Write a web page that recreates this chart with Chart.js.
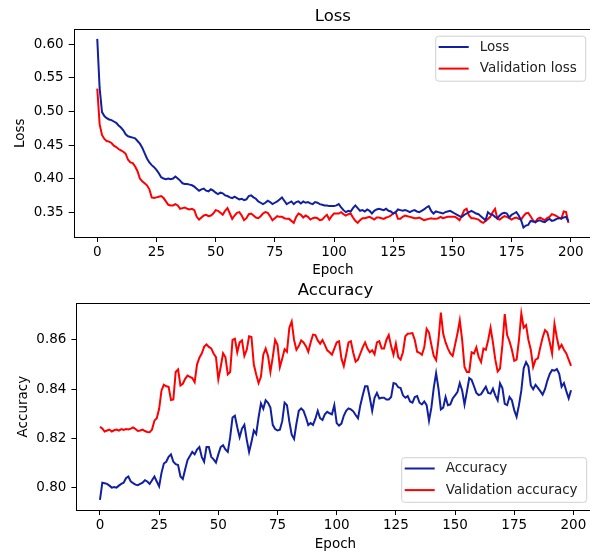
<!DOCTYPE html>
<html>
<head>
<meta charset="utf-8">
<script src="https://cdn.jsdelivr.net/npm/chart.js@4.4.0/dist/chart.umd.min.js"></script>
<style>
    html, body { margin: 0; padding: 0; background: #fff; width: 590px; height: 556px; overflow: hidden; }
    #page { position: relative; width: 590px; height: 556px; overflow: hidden; }
    #lossChart { position: absolute; left: 0; top: 0; }
    #accChart { position: absolute; left: 0; top: 283px; }
</style>
</head>
<body>
<div id="page">
    <canvas id="lossChart" width="600" height="283"></canvas>
    <canvas id="accChart" width="600" height="274"></canvas>
</div>
<script>
// Epoch index on the x axis
const epochs = Array.from({ length: 200 }, (_, i) => i);

const lossValues = [
    0.608, 0.535, 0.499, 0.493, 0.490, 0.488, 0.487, 0.485, 0.483, 0.479,
    0.476, 0.472, 0.466, 0.463, 0.462, 0.461, 0.460, 0.456, 0.452, 0.446,
    0.438, 0.430, 0.424, 0.420, 0.417, 0.413, 0.408, 0.402, 0.400, 0.399,
    0.400, 0.399, 0.400, 0.403, 0.400, 0.397, 0.393, 0.392, 0.392, 0.391,
    0.390, 0.388, 0.385, 0.382, 0.384, 0.385, 0.382, 0.381, 0.384, 0.382,
    0.379, 0.377, 0.379, 0.378, 0.375, 0.374, 0.372, 0.371, 0.373, 0.371,
    0.369, 0.370, 0.368, 0.369, 0.374, 0.375, 0.372, 0.370, 0.366, 0.364,
    0.362, 0.364, 0.367, 0.365, 0.362, 0.364, 0.366, 0.369, 0.372, 0.367,
    0.362, 0.364, 0.366, 0.362, 0.365, 0.366, 0.363, 0.366, 0.364, 0.365,
    0.363, 0.362, 0.365, 0.364, 0.362, 0.361, 0.360, 0.360, 0.359, 0.359,
    0.359, 0.360, 0.362, 0.357, 0.353, 0.350, 0.352, 0.351, 0.356, 0.360,
    0.356, 0.352, 0.353, 0.351, 0.354, 0.352, 0.348, 0.352, 0.354, 0.355,
    0.354, 0.353, 0.355, 0.352, 0.351, 0.348, 0.350, 0.354, 0.353, 0.352,
    0.353, 0.352, 0.350, 0.352, 0.353, 0.351, 0.350, 0.352, 0.354, 0.357,
    0.359, 0.352, 0.348, 0.351, 0.350, 0.349, 0.348, 0.350, 0.351, 0.352,
    0.350, 0.348, 0.346, 0.344, 0.343, 0.346, 0.348, 0.350, 0.352, 0.350,
    0.348, 0.347, 0.344, 0.341, 0.338, 0.350, 0.347, 0.346, 0.343, 0.341,
    0.345, 0.348, 0.349, 0.348, 0.342, 0.346, 0.348, 0.350, 0.345, 0.338,
    0.327, 0.330, 0.331, 0.337, 0.336, 0.335, 0.337, 0.338, 0.336, 0.335,
    0.338, 0.340, 0.337, 0.338, 0.340, 0.341, 0.341, 0.342, 0.343, 0.336
];

const valLossValues = [
    0.534, 0.481, 0.465, 0.459, 0.456, 0.455, 0.453, 0.449, 0.447, 0.444,
    0.442, 0.440, 0.437, 0.428, 0.424, 0.423, 0.418, 0.411, 0.400, 0.396,
    0.393, 0.390, 0.384, 0.372, 0.371, 0.372, 0.373, 0.374, 0.371, 0.366,
    0.361, 0.360, 0.360, 0.362, 0.360, 0.355, 0.356, 0.357, 0.355, 0.354,
    0.355, 0.353, 0.343, 0.339, 0.342, 0.345, 0.346, 0.344, 0.345, 0.348,
    0.353, 0.352, 0.349, 0.346, 0.352, 0.356, 0.348, 0.340, 0.345, 0.349,
    0.350, 0.345, 0.338, 0.341, 0.347, 0.348, 0.345, 0.342, 0.341, 0.344,
    0.348, 0.350, 0.349, 0.344, 0.338, 0.341, 0.344, 0.343, 0.343, 0.341,
    0.340, 0.340, 0.337, 0.334, 0.343, 0.348, 0.346, 0.342, 0.345, 0.343,
    0.339, 0.341, 0.342, 0.341, 0.338, 0.339, 0.343, 0.346, 0.339, 0.344,
    0.348, 0.348, 0.348, 0.350, 0.347, 0.345, 0.347, 0.348, 0.342, 0.337,
    0.334, 0.338, 0.341, 0.341, 0.342, 0.343, 0.341, 0.339, 0.342, 0.342,
    0.341, 0.340, 0.342, 0.343, 0.345, 0.348, 0.350, 0.340, 0.340, 0.343,
    0.345, 0.344, 0.343, 0.342, 0.341, 0.341, 0.342, 0.340, 0.338, 0.339,
    0.340, 0.341, 0.340, 0.340, 0.341, 0.343, 0.341, 0.342, 0.343, 0.343,
    0.343, 0.343, 0.341, 0.338, 0.345, 0.353, 0.355, 0.345, 0.341, 0.341,
    0.340, 0.339, 0.336, 0.334, 0.337, 0.340, 0.343, 0.350, 0.355, 0.340,
    0.339, 0.342, 0.344, 0.343, 0.341, 0.339, 0.341, 0.342, 0.340, 0.339,
    0.344, 0.348, 0.349, 0.344, 0.338, 0.335, 0.340, 0.342, 0.340, 0.338,
    0.341, 0.343, 0.347, 0.346, 0.344, 0.342, 0.340, 0.351, 0.350, 0.334
];

const accValues = [
    0.7950, 0.8020, 0.8018, 0.8015, 0.8008, 0.8000, 0.8002, 0.8000, 0.8008, 0.8015,
    0.8020, 0.8038, 0.8045, 0.8025, 0.8018, 0.8012, 0.8010, 0.8015, 0.8020, 0.8030,
    0.8025, 0.8015, 0.8030, 0.8045, 0.8025, 0.8005, 0.8060, 0.8098, 0.8105, 0.8125,
    0.8135, 0.8105, 0.8095, 0.8092, 0.8045, 0.8035, 0.8075, 0.8112, 0.8128, 0.8145,
    0.8135, 0.8155, 0.8165, 0.8125, 0.8105, 0.8165, 0.8165, 0.8125, 0.8115, 0.8102,
    0.8135, 0.8165, 0.8172, 0.8155, 0.8145, 0.8205, 0.8285, 0.8292, 0.8245, 0.8205,
    0.8240, 0.8255, 0.8195, 0.8145, 0.8185, 0.8232, 0.8218, 0.8285, 0.8342, 0.8320,
    0.8355, 0.8345, 0.8325, 0.8255, 0.8238, 0.8232, 0.8235, 0.8270, 0.8345, 0.8335,
    0.8268, 0.8215, 0.8198, 0.8260, 0.8312, 0.8322, 0.8312, 0.8285, 0.8254, 0.8262,
    0.8255, 0.8280, 0.8312, 0.8282, 0.8275, 0.8298, 0.8308, 0.8302, 0.8298, 0.8335,
    0.8262, 0.8252, 0.8260, 0.8292, 0.8312, 0.8322, 0.8318, 0.8310, 0.8295, 0.8282,
    0.8335, 0.8375, 0.8412, 0.8412, 0.8365, 0.8312, 0.8365, 0.8385, 0.8362, 0.8365,
    0.8365, 0.8358, 0.8358, 0.8368, 0.8425, 0.8422, 0.8408, 0.8405, 0.8375, 0.8365,
    0.8372, 0.8350, 0.8345, 0.8368, 0.8372, 0.8345, 0.8338, 0.8350, 0.8335, 0.8272,
    0.8325, 0.8405, 0.8465, 0.8402, 0.8318, 0.8325, 0.8368, 0.8335, 0.8338, 0.8362,
    0.8375, 0.8388, 0.8425, 0.8395, 0.8338, 0.8390, 0.8445, 0.8438, 0.8412, 0.8385,
    0.8376, 0.8380, 0.8395, 0.8410, 0.8385, 0.8382, 0.8402, 0.8375, 0.8355, 0.8424,
    0.8405, 0.8340, 0.8335, 0.8368, 0.8355, 0.8315, 0.8288, 0.8335, 0.8395, 0.8485,
    0.8510, 0.8492, 0.8415, 0.8400, 0.8418, 0.8405, 0.8392, 0.8378, 0.8400, 0.8435,
    0.8462, 0.8478, 0.8475, 0.8482, 0.8462, 0.8410, 0.8425, 0.8392, 0.8363, 0.8396
];

const valAccValues = [
    0.8247, 0.8240, 0.8228, 0.8232, 0.8236, 0.8228, 0.8233, 0.8236, 0.8232, 0.8238,
    0.8234, 0.8238, 0.8236, 0.8240, 0.8245, 0.8238, 0.8230, 0.8232, 0.8236, 0.8230,
    0.8226, 0.8225, 0.8236, 0.8272, 0.8282, 0.8320, 0.8395, 0.8418, 0.8412, 0.8410,
    0.8356, 0.8358, 0.8470, 0.8480, 0.8415, 0.8422, 0.8442, 0.8455, 0.8450, 0.8445,
    0.8428, 0.8500, 0.8528, 0.8545, 0.8572, 0.8582, 0.8572, 0.8566, 0.8545, 0.8530,
    0.8440, 0.8490, 0.8546, 0.8530, 0.8460, 0.8470, 0.8600, 0.8605, 0.8550, 0.8590,
    0.8598, 0.8535, 0.8560, 0.8615, 0.8612, 0.8500, 0.8460, 0.8425, 0.8450, 0.8540,
    0.8565, 0.8535, 0.8470, 0.8530, 0.8600, 0.8580, 0.8490, 0.8525, 0.8562, 0.8552,
    0.8650, 0.8675, 0.8600, 0.8560, 0.8575, 0.8598, 0.8590, 0.8575, 0.8552, 0.8590,
    0.8622, 0.8620, 0.8598, 0.8585, 0.8600, 0.8580, 0.8558, 0.8550, 0.8540, 0.8565,
    0.8590, 0.8595, 0.8525, 0.8494, 0.8540, 0.8590, 0.8595, 0.8548, 0.8512, 0.8520,
    0.8545, 0.8570, 0.8590, 0.8565, 0.8550, 0.8558, 0.8542, 0.8590, 0.8595, 0.8565,
    0.8565, 0.8600, 0.8620, 0.8575, 0.8540, 0.8585, 0.8530, 0.8520, 0.8550, 0.8615,
    0.8625, 0.8626, 0.8628, 0.8600, 0.8552, 0.8548, 0.8540, 0.8570, 0.8645, 0.8630,
    0.8580, 0.8535, 0.8518, 0.8600, 0.8711, 0.8625, 0.8590, 0.8565, 0.8545, 0.8535,
    0.8580, 0.8625, 0.8680, 0.8600, 0.8490, 0.8470, 0.8470, 0.8550, 0.8545, 0.8570,
    0.8530, 0.8510, 0.8565, 0.8560, 0.8600, 0.8650, 0.8590, 0.8520, 0.8472, 0.8484,
    0.8580, 0.8705, 0.8620, 0.8595, 0.8560, 0.8515, 0.8520, 0.8600, 0.8708, 0.8650,
    0.8660, 0.8600, 0.8560, 0.8490, 0.8520, 0.8525, 0.8570, 0.8610, 0.8640, 0.8630,
    0.8590, 0.8545, 0.8665, 0.8610, 0.8565, 0.8580, 0.8560, 0.8545, 0.8520, 0.8495
];

const epochTicks = [0, 25, 50, 75, 100, 125, 150, 175, 200];
const lossTicks = [0.35, 0.40, 0.45, 0.50, 0.55, 0.60];
const accTicks = [0.80, 0.82, 0.84, 0.86];

const trainColor = '#1020a0';
const valColor = '#ff0000';

Chart.defaults.font.family = '"DejaVu Sans", sans-serif';
Chart.defaults.font.size = 13.5;
Chart.defaults.color = '#000';

// Matplotlib-like frame, centred title and boxed legend
const mplDecor = {
    id: 'mplDecor',
    afterDraw(chart, args, opts) {
        const { ctx, chartArea: a } = chart;
        ctx.save();

        // full box around the axes
        ctx.strokeStyle = '#000';
        ctx.lineWidth = 1;
        ctx.strokeRect(Math.round(a.left) + 0.5, Math.round(a.top) + 0.5,
            Math.round(a.right - a.left), Math.round(a.bottom - a.top));

        // title over the middle of the axes
        ctx.fillStyle = '#000';
        ctx.font = '16.5px "DejaVu Sans", sans-serif';
        ctx.textAlign = 'center';
        ctx.textBaseline = 'alphabetic';
        ctx.fillText(opts.title, (a.left + a.right) / 2, a.top - 8);

        // legend box
        const { x, y, w, h } = opts.legend;
        const r = 3;
        ctx.beginPath();
        ctx.moveTo(x + r, y);
        ctx.lineTo(x + w - r, y);
        ctx.quadraticCurveTo(x + w, y, x + w, y + r);
        ctx.lineTo(x + w, y + h - r);
        ctx.quadraticCurveTo(x + w, y + h, x + w - r, y + h);
        ctx.lineTo(x + r, y + h);
        ctx.quadraticCurveTo(x, y + h, x, y + h - r);
        ctx.lineTo(x, y + r);
        ctx.quadraticCurveTo(x, y, x + r, y);
        ctx.closePath();
        ctx.fillStyle = 'rgba(255,255,255,0.8)';
        ctx.fill();
        ctx.strokeStyle = '#d0d0d0';
        ctx.lineWidth = 1;
        ctx.stroke();

        ctx.font = '13.5px "DejaVu Sans", sans-serif';
        ctx.textAlign = 'left';
        ctx.textBaseline = 'middle';
        chart.data.datasets.forEach((ds, i) => {
            const rowY = y + 10.8 + i * 21.6;
            ctx.strokeStyle = ds.borderColor;
            ctx.lineWidth = 2;
            ctx.beginPath();
            ctx.moveTo(x + 3, rowY);
            ctx.lineTo(x + 33, rowY);
            ctx.stroke();
            ctx.fillStyle = '#222';
            ctx.fillText(ds.label, x + 44, rowY);
        });

        ctx.restore();
    }
};

function toPoints(values) {
    return values.map((v, i) => ({ x: epochs[i], y: v }));
}

function makeChart(id, cfg) {
    return new Chart(document.getElementById(id), {
        type: 'line',
        data: {
            datasets: [{
                label: cfg.labels[0],
                data: toPoints(cfg.train),
                borderColor: trainColor,
                borderWidth: 2,
                pointRadius: 0,
                tension: 0
            }, {
                label: cfg.labels[1],
                data: toPoints(cfg.val),
                borderColor: valColor,
                borderWidth: 2,
                pointRadius: 0,
                tension: 0
            }]
        },
        options: {
            responsive: false,
            animation: false,
            layout: { padding: cfg.padding },
            plugins: {
                legend: { display: false },
                tooltip: { enabled: false },
                mplDecor: { title: cfg.title, legend: cfg.legend }
            },
            scales: {
                x: {
                    type: 'linear',
                    min: -9.95,
                    max: 208.95,
                    afterBuildTicks: (scale) => { scale.ticks = epochTicks.map(v => ({ value: v })); },
                    afterFit: (scale) => { scale.height = cfg.xAxisHeight; },
                    ticks: { autoSkip: false, maxRotation: 0, padding: 2, callback: (v) => String(v) },
                    grid: { drawOnChartArea: false, drawTicks: true, tickLength: 5, color: '#000' },
                    border: { display: false },
                    title: { display: true, text: 'Epoch', padding: { top: 4, bottom: 4 } }
                },
                y: {
                    min: cfg.yMin,
                    max: cfg.yMax,
                    afterBuildTicks: (scale) => { scale.ticks = cfg.yTicks.map(v => ({ value: v })); },
                    afterFit: (scale) => { scale.width = cfg.yAxisWidth; },
                    ticks: { padding: 5, callback: (v) => v.toFixed(2) },
                    grid: { drawOnChartArea: false, drawTicks: true, tickLength: 5, color: '#000' },
                    border: { display: false },
                    title: { display: true, text: cfg.yTitle, padding: { top: cfg.yTitlePad, bottom: 4 } }
                }
            }
        },
        plugins: [mplDecor]
    });
}

// Loss panel
makeChart('lossChart', {
    title: 'Loss',
    yTitle: 'Loss',
    labels: ['Loss', 'Validation loss'],
    train: lossValues,
    val: valLossValues,
    yTicks: lossTicks,
    yMin: 0.3130,
    yMax: 0.6223,
    padding: { top: 29.3, right: 8, bottom: 0, left: 0 },
    yAxisWidth: 73.7,
    xAxisHeight: 46,
    yTitlePad: 12.4,
    legend: { x: 435.7, y: 36.2, w: 150, h: 45 }
});

// Accuracy panel
makeChart('accChart', {
    title: 'Accuracy',
    yTitle: 'Accuracy',
    labels: ['Accuracy', 'Validation accuracy'],
    train: accValues,
    val: valAccValues,
    yTicks: accTicks,
    yMin: 0.7909,
    yMax: 0.8749,
    padding: { top: 20.3, right: 5.4, bottom: 0, left: 0 },
    yAxisWidth: 76.4,
    xAxisHeight: 47,
    yTitlePad: 15,
    legend: { x: 401.7, y: 174.7, w: 185, h: 44.6 }
});
</script>
</body>
</html>
